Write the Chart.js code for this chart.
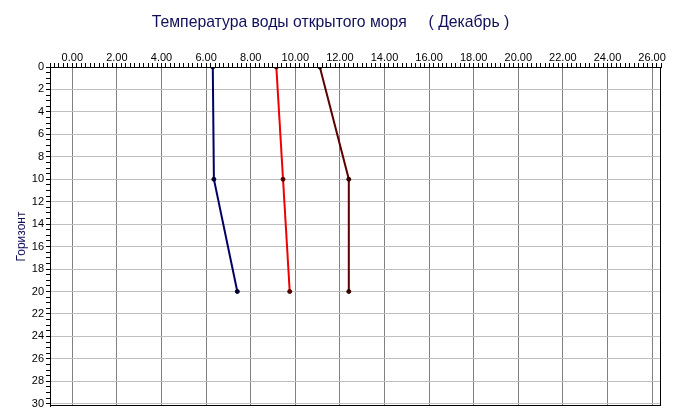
<!DOCTYPE html>
<html>
<head>
<meta charset="utf-8">
<script src="https://cdn.jsdelivr.net/npm/chart.js@4"></script>
<style>
  html, body { margin: 0; padding: 0; background: #fff; }
  #wrap { width: 675px; height: 419px; }
</style>
</head>
<body>
<div id="wrap"><canvas id="chart"></canvas></div>
<script>
// данные
const depths = [0, 10, 20];
const tempLow = [6.3, 6.35, 7.4];
const tempMid = [9.15, 9.45, 9.75];
const tempHigh = [11.1, 12.4, 12.4];

const xMajorTicks = [0, 2, 4, 6, 8, 10, 12, 14, 16, 18, 20, 22, 24, 26];
const yMajorTicks = [0, 2, 4, 6, 8, 10, 12, 14, 16, 18, 20, 22, 24, 26, 28, 30];

const isMajor = (list, v) => list.some(t => Math.abs(t - v) < 1e-6);
const toPoints = temps => temps.map((t, i) => ({ x: t, y: depths[i] }));

// рамка вокруг области графика
const framePlugin = {
    id: 'frame',
    afterDraw(chart) {
        const { ctx, chartArea: a } = chart;
        ctx.save();
        ctx.strokeStyle = '#000';
        ctx.lineWidth = 1;
        ctx.strokeRect(Math.round(a.left) + 0.5, Math.round(a.top) + 0.5,
            Math.round(a.right - a.left) - 1, Math.round(a.bottom - a.top) - 1);
        ctx.restore();
    }
};

const series = (data, color, pointColor) => ({
    data: toPoints(data),
    showLine: true,
    borderColor: color,
    borderWidth: 2,
    pointRadius: 2,
    pointBackgroundColor: pointColor,
    pointBorderColor: pointColor,
    pointBorderWidth: 1
});

const font = { family: 'Liberation Sans, Arial, sans-serif', size: 11 };

new Chart(document.getElementById('chart'), {
    type: 'scatter',
    data: {
        datasets: [
            series(tempLow, '#000066', '#000033'),
            series(tempMid, '#ee0000', '#550000'),
            series(tempHigh, '#5c0000', '#330000')
        ]
    },
    options: {
        responsive: true,
        maintainAspectRatio: false,
        animation: false,
        layout: { padding: { top: 0, left: 0, right: 14, bottom: 13 } },
        plugins: {
            legend: { display: false },
            tooltip: { enabled: false },
            title: {
                display: true,
                text: 'Температура воды открытого моря     ( Декабрь )',
                color: '#10105a',
                font: { family: 'Liberation Sans, Arial, sans-serif', size: 15.75, weight: 'normal' },
                padding: { top: 13, bottom: 8 }
            }
        },
        scales: {
            x: {
                type: 'linear',
                position: 'top',
                min: -1,
                max: 26.4,
                afterFit: s => { s.height = 27.1; },
                border: { color: '#000' },
                grid: {
                    color: c => isMajor(xMajorTicks, c.tick.value) ? '#808080' : 'rgba(0,0,0,0)',
                    tickColor: '#000',
                    tickLength: 4
                },
                ticks: {
                    stepSize: 0.2,
                    includeBounds: false,
                    autoSkip: false,
                    maxRotation: 0,
                    minRotation: 0,
                    padding: -2,
                    color: '#000',
                    font: font,
                    callback: v => isMajor(xMajorTicks, v) ? (Math.round(v * 100) / 100 + 0).toFixed(2) : ''
                }
            },
            y: {
                type: 'linear',
                reverse: true,
                min: 0,
                max: 30.2,
                afterFit: s => { s.width = 50; },
                border: { color: '#000' },
                grid: {
                    color: c => isMajor(yMajorTicks, c.tick.value) ? '#c0c0c0' : 'rgba(0,0,0,0)',
                    tickColor: '#000',
                    tickLength: 4
                },
                ticks: {
                    stepSize: 0.5,
                    includeBounds: false,
                    autoSkip: false,
                    padding: 2,
                    color: '#000',
                    font: font,
                    callback: v => isMajor(yMajorTicks, v) ? String(Math.round(v)) : ''
                },
                title: {
                    display: true,
                    text: 'Горизонт',
                    color: '#10105a',
                    font: { family: 'Liberation Sans, Arial, sans-serif', size: 12 },
                    padding: { top: 14, bottom: 0 }
                }
            }
        }
    },
    plugins: [framePlugin]
});
</script>
</body>
</html>
